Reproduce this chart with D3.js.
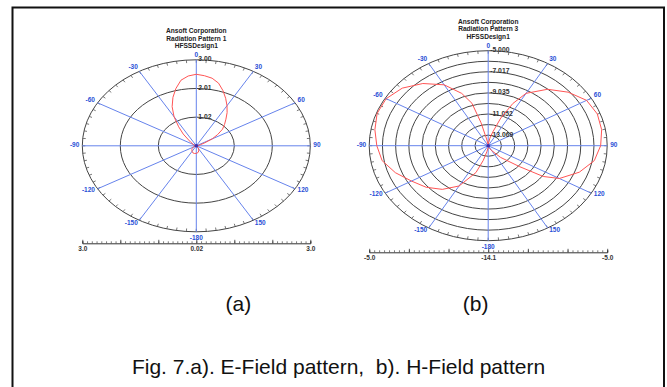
<!DOCTYPE html>
<html>
<head>
<meta charset="utf-8">
<script src="https://cdn.jsdelivr.net/npm/d3@7"></script>
<style>
  html, body { margin: 0; padding: 0; background: #fff; }
  svg { display: block; }
</style>
</head>
<body>
<div id="chart"></div>
<script>
// angle ticks (deg, 0 = top, clockwise)
const spokeAngles = [0, 30, 60, 90, 120, 150, 180, -150, -120, -90, -60, -30];
const spokeLabels = ['0', '30', '60', '90', '120', '150', '-180', '-150', '-120', '-90', '-60', '-30'];

// (a) E-field, Radiation Pattern 1
const eTitle = ['Ansoft Corporation', 'Radiation Pattern 1', 'HFSSDesign1'];
const eDomain = [0.03, 3.0];
const eRings = [1.02, 2.01, 3.0];
const eRingLabels = ['1.02', '2.01', '3.00'];
const eAxisLabels = ['3.0', '0.02', '3.0'];
const eAngles = [-180, -170, -160, -150, -140, -130, -120, -110, -90, -70, -60, -50, -45, -40, -35, -30, -25, -20, -15, -10, -5,
  0, 5, 10, 15, 20, 25, 30, 35, 40, 45, 50, 55, 60, 65, 70, 80, 90, 110, 130, 150, 160, 170, 180];
const eValues = [0.29, 0.30, 0.29, 0.25, 0.21, 0.17, 0.12, 0.07, 0.06, 0.06, 0.12, 0.21, 0.31, 0.56, 0.83, 1.19, 1.52, 1.81, 2.08, 2.33, 2.45,
  2.50, 2.46, 2.40, 2.27, 2.06, 1.84, 1.63, 1.43, 1.23, 1.07, 0.92, 0.71, 0.51, 0.27, 0.15, 0.07, 0.06, 0.06, 0.06, 0.15, 0.22, 0.27, 0.29];

// (b) H-field, Radiation Pattern 3
const hTitle = ['Ansoft Corporation', 'Radiation Pattern 3', 'HFSSDesign1'];
const hDomain = [-14.078, -5.0];
const hRings = [-13.069, -12.060, -11.052, -10.043, -9.035, -8.026, -7.017, -6.009, -5.0];
const hLabelRings = [-5.0, -7.017, -9.035, -11.052, -13.069];
const hRingLabels = ['-5.000', '-7.017', '-9.035', '-11.052', '-13.069'];
const hAxisLabels = ['-5.0', '-14.1', '-5.0'];
const hAngles = [-180, -170, -165, -160, -150, -140, -130, -120, -110, -100, -90, -80, -70, -60, -50, -40, -30, -22, -17, -14, -10,
  0, 10, 15, 20, 25, 30, 40, 50, 60, 70, 80, 90, 100, 110, 120, 125, 130, 140, 150, 160, 170, 180];
const hValues = [-13.90, -13.50, -12.63, -11.35, -9.63, -8.63, -7.90, -7.32, -6.54, -5.86, -5.58, -5.30, -5.06, -5.09, -5.52, -6.32, -7.36, -8.69, -9.84, -11.81, -13.53,
  -13.99, -13.35, -12.70, -11.26, -9.63, -8.30, -7.04, -6.12, -5.41, -5.22, -5.29, -5.50, -5.86, -6.68, -7.81, -8.95, -10.99, -12.63, -13.53, -13.81, -13.90, -13.90];

const width = 667;
const height = 387;
const rad = Math.PI / 180;
const font = 'Liberation Sans, Arial, sans-serif';

const svg = d3.select('#chart')
  .append('svg')
  .attr('width', width)
  .attr('height', height);

svg.append('rect')
  .attr('width', width)
  .attr('height', height)
  .attr('fill', '#fff');

// outer frame (bottom edge is cropped off in the figure)
svg.append('rect')
  .attr('x', 12.5)
  .attr('y', 7.5)
  .attr('width', 651.5)
  .attr('height', 400)
  .attr('fill', 'none')
  .attr('stroke', '#111')
  .attr('stroke-width', 2);

function drawPolar(opts) {
  const { cx, cy, rx, ry, domain, rings, labelRings, ringLabels, angles, values, title, titleY, axisY, axisLabels } = opts;

  const r = d3.scaleLinear().domain(domain).range([0, 1]);
  const px = (a, v) => cx + r(v) * rx * Math.sin(a * rad);
  const py = (a, v) => cy - r(v) * ry * Math.cos(a * rad);

  const g = svg.append('g');

  g.selectAll('.title')
    .data(title)
    .join('text')
    .attr('class', 'title')
    .attr('x', cx)
    .attr('y', (_, i) => titleY + i * 7.6)
    .attr('text-anchor', 'middle')
    .style('font-family', font)
    .style('font-weight', 'bold')
    .style('font-size', '6.6px')
    .attr('fill', '#222')
    .text((d) => d);

  // rings
  g.selectAll('.ring')
    .data(rings)
    .join('ellipse')
    .attr('class', 'ring')
    .attr('cx', cx)
    .attr('cy', cy)
    .attr('rx', (d) => r(d) * rx)
    .attr('ry', (d) => r(d) * ry)
    .attr('fill', 'none')
    .attr('stroke', '#444')
    .attr('stroke-width', 1);

  // ticks on outer ring
  const tickAngles = d3.range(-180, 180, 5);
  const outer = domain[1];
  g.append('g')
    .selectAll('line')
    .data(tickAngles)
    .join('line')
    .attr('x1', (a) => px(a, outer))
    .attr('y1', (a) => py(a, outer))
    .attr('x2', (a) => cx + (rx - 3) * Math.sin(a * rad))
    .attr('y2', (a) => cy - (ry - 3) * Math.cos(a * rad))
    .attr('stroke', '#555')
    .attr('stroke-width', 0.8);

  // spokes
  g.append('g')
    .selectAll('line')
    .data(spokeAngles)
    .join('line')
    .attr('x1', cx)
    .attr('y1', cy)
    .attr('x2', (a) => px(a, outer))
    .attr('y2', (a) => py(a, outer))
    .attr('stroke', '#6683ec')
    .attr('stroke-width', 1);

  g.append('g')
    .selectAll('text')
    .data(spokeAngles)
    .join('text')
    .attr('x', (a) => cx + (rx + 3) * Math.sin(a * rad))
    .attr('y', (a) => cy - (ry + 4) * Math.cos(a * rad) + 1)
    .attr('text-anchor', (a) => {
      const s = Math.sin(a * rad);
      if (s > 0.1) return 'start';
      if (s < -0.1) return 'end';
      return 'middle';
    })
    .attr('dy', (a) => (Math.cos(a * rad) < -0.9 ? 3 : 0))
    .style('font-family', font)
    .style('font-weight', 'bold')
    .style('font-size', '6.5px')
    .attr('fill', '#2a4fd6')
    .text((_, i) => spokeLabels[i]);

  // ring value labels along 0 deg
  g.append('g')
    .selectAll('text')
    .data(labelRings)
    .join('text')
    .attr('x', cx + 2)
    .attr('y', (d) => cy - r(d) * ry + 1.5)
    .style('font-family', font)
    .style('font-weight', 'bold')
    .style('font-size', '6.8px')
    .attr('fill', '#333')
    .text((_, i) => ringLabels[i]);

  // pattern trace
  const pts = angles.map((a, i) => [a, values[i]]);
  const line = d3.line()
    .x((d) => px(d[0], d[1]))
    .y((d) => py(d[0], d[1]));

  g.append('path')
    .datum(pts)
    .attr('d', line)
    .attr('fill', 'none')
    .attr('stroke', '#ff5555')
    .attr('stroke-width', 1);

  g.append('circle')
    .attr('cx', cx)
    .attr('cy', cy)
    .attr('r', 1.8)
    .attr('fill', '#3a2fb0');

  // bottom scale bar
  const xs = d3.scaleLinear().domain([-1, 1]).range([cx - rx, cx + rx]);
  const minor = g.append('g')
    .attr('transform', `translate(0,${axisY})`)
    .call(d3.axisBottom(xs).tickValues(d3.range(-1, 1.0001, 1 / 24)).tickSize(-2).tickFormat(''));
  minor.selectAll('line').attr('stroke', '#444').attr('stroke-width', 0.7);
  minor.select('.domain').attr('stroke', '#333').attr('stroke-width', 1);

  const major = g.append('g')
    .attr('transform', `translate(0,${axisY})`)
    .call(d3.axisBottom(xs)
      .tickValues(d3.range(-1, 1.0001, 1 / 3))
      .tickSize(-3.5)
      .tickFormat((d) => {
        if (Math.abs(d + 1) < 1e-6) return axisLabels[0];
        if (Math.abs(d) < 1e-6) return axisLabels[1];
        if (Math.abs(d - 1) < 1e-6) return axisLabels[2];
        return '';
      }));
  major.select('.domain').remove();
  major.selectAll('line').attr('stroke', '#333').attr('stroke-width', 0.8);
  major.selectAll('text')
    .attr('y', 3)
    .style('font-family', font)
    .style('font-weight', 'bold')
    .style('font-size', '6.5px')
    .attr('fill', '#333');
}

drawPolar({
  cx: 196.3, cy: 145.8, rx: 114, ry: 86,
  domain: eDomain, rings: eRings, labelRings: eRings, ringLabels: eRingLabels,
  angles: eAngles, values: eValues,
  title: eTitle, titleY: 33, axisY: 243.3, axisLabels: eAxisLabels,
});

drawPolar({
  cx: 488.2, cy: 145.7, rx: 119, ry: 95,
  domain: hDomain, rings: hRings, labelRings: hLabelRings, ringLabels: hRingLabels,
  angles: hAngles, values: hValues,
  title: hTitle, titleY: 23.5, axisY: 252.3, axisLabels: hAxisLabels,
});

svg.append('text')
  .attr('x', 238.3).attr('y', 310.5)
  .attr('text-anchor', 'middle')
  .style('font-family', font).style('font-size', '21px')
  .attr('fill', '#111')
  .text('(a)');

svg.append('text')
  .attr('x', 475.7).attr('y', 310.5)
  .attr('text-anchor', 'middle')
  .style('font-family', font).style('font-size', '21px')
  .attr('fill', '#111')
  .text('(b)');

svg.append('text')
  .attr('x', 338.5).attr('y', 374)
  .attr('text-anchor', 'middle')
  .style('white-space', 'pre')
  .style('font-family', font).style('font-size', '21px')
  .attr('fill', '#111')
  .text('Fig. 7.a). E-Field pattern,  b). H-Field pattern');
</script>
</body>
</html>
